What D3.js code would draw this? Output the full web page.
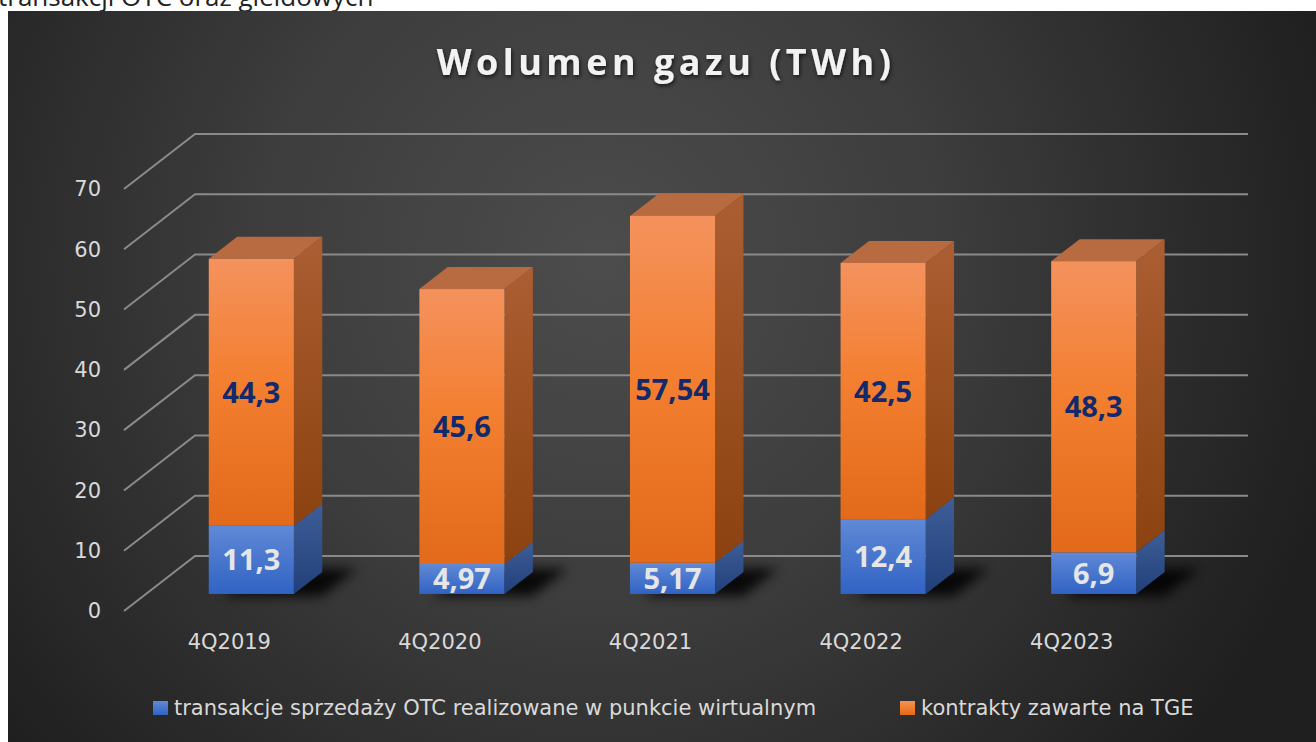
<!DOCTYPE html>
<html>
<head>
<meta charset="utf-8">
<script src="https://cdn.jsdelivr.net/npm/d3@7"></script>
<style>
  body { margin: 0; background: #fff; overflow: hidden; }
  svg { display: block; }
</style>
</head>
<body>
<div id="main"></div>
<script>
// data
const categories = ["4Q2019", "4Q2020", "4Q2021", "4Q2022", "4Q2023"]
const otcValues = [11.3, 4.97, 5.17, 12.4, 6.9]
const tgeValues = [44.3, 45.6, 57.54, 42.5, 48.3]
const otcLabels = ["11,3", "4,97", "5,17", "12,4", "6,9"]
const tgeLabels = ["44,3", "45,6", "57,54", "42,5", "48,3"]
const yTicks = [0, 10, 20, 30, 40, 50, 60, 70]
const seriesNames = ["transakcje sprzedaży OTC realizowane w punkcie wirtualnym", "kontrakty zawarte na TGE"]

let width = 1316
let height = 742

let svg = d3.select('#main')
            .append('svg')
            .attr('width', width)
            .attr('height', height)

let defs = svg.append('defs')

let bg = defs.append('radialGradient')
    .attr('id', 'bg')
    .attr('gradientUnits', 'userSpaceOnUse')
    .attr('cx', 600).attr('cy', 260).attr('r', 760)
bg.append('stop').attr('offset', 0).attr('stop-color', '#4c4c4c')
bg.append('stop').attr('offset', 0.45).attr('stop-color', '#3d3d3d')
bg.append('stop').attr('offset', 1).attr('stop-color', '#1f1f1f')

let vgrad = (id, stops) => {
    let g = defs.append('linearGradient').attr('id', id)
        .attr('x1', 0).attr('y1', 0).attr('x2', 0).attr('y2', 1)
    stops.forEach(s => g.append('stop').attr('offset', s[0]).attr('stop-color', s[1]))
}
vgrad('orangeFront', [[0, '#f4925d'], [0.45, '#f37f30'], [1, '#e26a1a']])
vgrad('orangeSide', [[0, '#ab5e32'], [1, '#8c4210']])
vgrad('blueFront', [[0, '#6089d6'], [1, '#3163c4']])
vgrad('blueSide', [[0, '#3f5e98'], [1, '#21407a']])

defs.append('filter').attr('id', 'blur')
    .attr('x', '-50%').attr('y', '-50%').attr('width', '200%').attr('height', '200%')
    .append('feGaussianBlur').attr('stdDeviation', 6)

let ts = defs.append('filter').attr('id', 'tshadow')
    .attr('x', '-10%').attr('y', '-30%').attr('width', '120%').attr('height', '160%')
ts.append('feDropShadow').attr('dx', 1).attr('dy', 2).attr('stdDeviation', 2)
    .attr('flood-color', '#000').attr('flood-opacity', 0.7)

// page text cut off above the chart (as in the original screenshot)
svg.append('text')
    .attr('x', -2)
    .attr('y', 6)
    .style('font-family', 'Open Sans')
    .style('font-size', '26px')
    .style('fill', '#222')
    .text('transakcji OTC oraz giełdowych')

svg.append('rect')
    .attr('x', 8).attr('y', 11)
    .attr('width', width - 8).attr('height', height - 11)
    .style('fill', 'url(#bg)')

// 3d projection: front plane + depth offset
let DX = 71, DY = 55
let d0 = 0.31, d1 = 0.71

let xScale = d3.scaleBand().domain(categories).range([124, 1177])
let yScale = d3.scaleLinear().domain([0, 70]).range([611, 189])

let P = (x, v, d) => [x + d * DX, yScale(v) - d * DY]
let poly = (pts) => pts.map(p => p.join(',')).join(' ')

// grid
let grid = svg.append('g').attr('id', 'grid')
yTicks.forEach(t => {
    let a = P(xScale.range()[0], t, 0)
    let b = P(xScale.range()[0], t, 1)
    let c = P(xScale.range()[1], t, 1)
    grid.append('polyline')
        .attr('points', poly([a, b, c]))
        .style('fill', 'none')
        .style('stroke', '#8a8a8a')
        .style('stroke-width', 2)
})

// y labels
svg.append('g').selectAll('text')
    .data(yTicks)
    .enter()
    .append('text')
    .attr('x', 101)
    .attr('y', d => yScale(d))
    .attr('dy', '.35em')
    .style('text-anchor', 'end')
    .style('font-family', 'DejaVu Sans')
    .style('font-size', '21px')
    .style('fill', '#d9d9d9')
    .text(d => d)

// category labels
svg.append('g').selectAll('text')
    .data(categories)
    .enter()
    .append('text')
    .attr('x', d => xScale(d) + xScale.bandwidth() / 2)
    .attr('y', 642)
    .attr('dy', '.35em')
    .style('text-anchor', 'middle')
    .style('font-family', 'DejaVu Sans')
    .style('font-size', '21px')
    .style('fill', '#d9d9d9')
    .text(d => d)

let barW = xScale.bandwidth() * 0.404
let left = (c) => xScale(c) + xScale.bandwidth() / 2 - barW / 2

// shadows
svg.append('g').selectAll('polygon')
    .data(categories)
    .enter()
    .append('polygon')
    .attr('points', c => {
        let l = left(c) + 14, r = l + barW + 14
        return poly([P(l, 0, d0), P(r, 0, d0), P(r, 0, d1 + 0.1), P(l, 0, d1 + 0.1)])
    })
    .attr('transform', 'translate(0,2)')
    .style('fill', '#000')
    .style('opacity', 0.85)
    .attr('filter', 'url(#blur)')

let drawBlock = (g, l, v0, v1, front, side, top) => {
    let r = l + barW
    g.append('polygon')
        .attr('points', poly([P(r, v0, d0), P(r, v0, d1), P(r, v1, d1), P(r, v1, d0)]))
        .style('fill', side)
    if (top) {
        g.append('polygon')
            .attr('points', poly([P(l, v1, d0), P(r, v1, d0), P(r, v1, d1), P(l, v1, d1)]))
            .style('fill', top)
    }
    let a = P(l, v1, d0), b = P(r, v0, d0)
    g.append('rect')
        .attr('x', a[0]).attr('y', a[1])
        .attr('width', b[0] - a[0]).attr('height', b[1] - a[1])
        .style('fill', front)
}

let bars = svg.append('g').attr('id', 'bars')
categories.forEach((c, i) => {
    let g = bars.append('g')
    let l = left(c)
    drawBlock(g, l, 0, otcValues[i], 'url(#blueFront)', 'url(#blueSide)', null)
    drawBlock(g, l, otcValues[i], otcValues[i] + tgeValues[i], 'url(#orangeFront)', 'url(#orangeSide)', '#b86a40')
})

// value labels
let labelX = (c) => left(c) + barW / 2 + d0 * DX
svg.append('g').selectAll('text')
    .data(categories)
    .enter()
    .append('text')
    .attr('x', labelX)
    .attr('y', (c, i) => yScale(otcValues[i] / 2) - d0 * DY)
    .attr('dy', '.36em')
    .style('text-anchor', 'middle')
    .style('font-family', 'Open Sans')
    .style('font-weight', 700)
    .style('font-size', '29px')
    .style('fill', '#e6e6e6')
    .text((c, i) => otcLabels[i])

svg.append('g').selectAll('text')
    .data(categories)
    .enter()
    .append('text')
    .attr('x', labelX)
    .attr('y', (c, i) => yScale(otcValues[i] + tgeValues[i] / 2) - d0 * DY)
    .attr('dy', '.36em')
    .style('text-anchor', 'middle')
    .style('font-family', 'Open Sans')
    .style('font-weight', 700)
    .style('font-size', '29px')
    .style('fill', '#12296b')
    .text((c, i) => tgeLabels[i])

// title
svg.append('text')
    .attr('x', 666)
    .attr('y', 75)
    .style('text-anchor', 'middle')
    .style('font-family', 'Open Sans')
    .style('font-weight', 700)
    .style('font-size', '36px')
    .style('letter-spacing', '4.5px')
    .style('fill', '#f2f2f2')
    .attr('filter', 'url(#tshadow)')
    .text('Wolumen gazu (TWh)')

// legend
let legend = svg.append('g').attr('id', 'legend')
let legendX = [153, 900]
let legendColors = ['url(#blueFront)', 'url(#orangeFront)']
seriesNames.forEach((name, i) => {
    legend.append('rect')
        .attr('x', legendX[i]).attr('y', 701)
        .attr('width', 15).attr('height', 14)
        .style('fill', legendColors[i])
    legend.append('text')
        .attr('x', legendX[i] + 21)
        .attr('y', 708)
        .attr('dy', '.35em')
        .style('font-family', 'DejaVu Sans')
        .style('font-size', '21px')
        .style('fill', '#d9d9d9')
        .text(name)
})
</script>
</body>
</html>
